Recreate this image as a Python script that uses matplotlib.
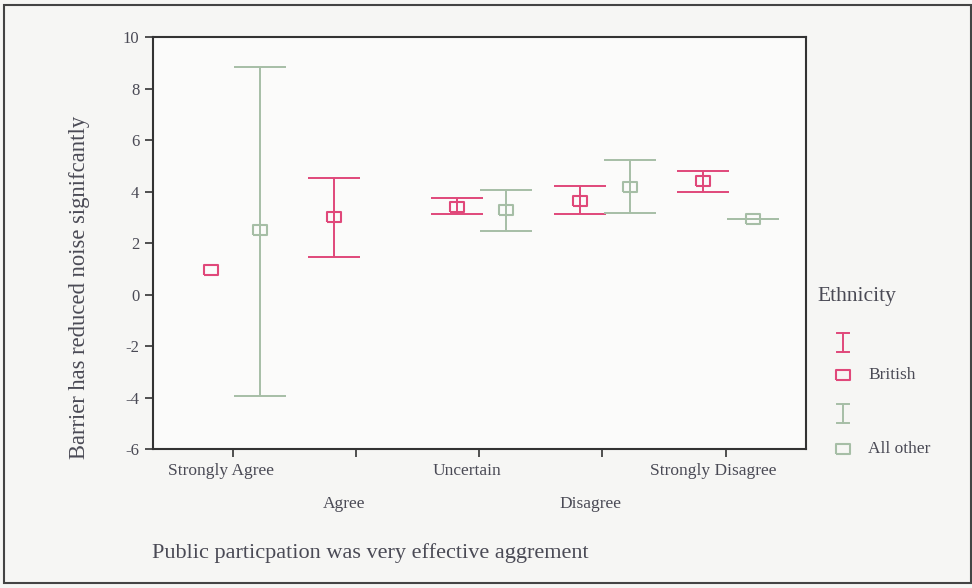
import matplotlib.pyplot as plt
import matplotlib.transforms as mtransforms
from matplotlib.patches import Rectangle
import numpy as np

# categorias del eje x
categorias = ["Strongly Agree", "Agree", "Uncertain", "Disagree", "Strongly Disagree"]

# British: media, limite superior, limite inferior (None = sin barra)
british_media = [0.97, 3.02, 3.40, 3.63, 4.40]
british_sup = [None, 4.53, 3.74, 4.22, 4.81]
british_inf = [None, 1.45, 3.12, 3.13, 4.00]

# All other (no hay dato para Agree)
otro_media = [2.50, None, 3.27, 4.18, 2.93]
otro_sup = [8.85, None, 4.06, 5.22, 2.93]
otro_inf = [-3.92, None, 2.48, 3.17, 2.93]

rojo = '#e0487a'
verde = '#a6bea6'
texto = '#4a4a55'

plt.rcParams['font.family'] = ['Liberation Serif', 'DejaVu Serif']
plt.rcParams['axes.unicode_minus'] = False

fig = plt.figure(figsize=(9.72, 5.88), dpi=100)
fig.patch.set_facecolor('#f6f6f4')
ax = fig.add_axes([0.157, 0.236, 0.672, 0.701])
ax.set_facecolor('#fbfbfa')

caja = [(-1, -0.75), (1, -0.75), (1, 0.75), (-1, 0.75), (-1, -0.75)]


def dibujar_serie(medias, sup, inf, desplaz, color):
    for i, m in enumerate(medias):
        if m is None:
            continue
        x = i + 1 + desplaz
        if sup[i] is not None:
            ax.errorbar([x], [m], yerr=[[m - inf[i]], [sup[i] - m]], fmt='none',
                        ecolor=color, elinewidth=1.4, capsize=19, capthick=1.4)
        ax.plot([x], [m], marker=caja, markersize=10, markerfacecolor='none',
                markeredgecolor=color, markeredgewidth=1.5, linestyle='none')


dibujar_serie(british_media, british_sup, british_inf, -0.18, rojo)
dibujar_serie(otro_media, otro_sup, otro_inf, 0.22, verde)

ax.set_xlim(0.35, 5.65)
ax.set_ylim(-6, 10)
ax.set_yticks(np.arange(-6, 11, 2))
ax.set_xticks(range(1, 6))
ax.set_xticklabels([c if i % 2 == 0 else '\n\n' + c for i, c in enumerate(categorias)])
ax.tick_params(axis='both', direction='out', length=6, width=1.2, colors='#333333',
               labelcolor=texto)
ax.tick_params(axis='x', pad=4, labelsize=12.5)
ax.tick_params(axis='y', labelsize=12)
# las etiquetas del eje x estan algo corridas a la izquierda
desp = mtransforms.ScaledTranslation(-12 / 100, 0, fig.dpi_scale_trans)
for lbl in ax.get_xticklabels():
    lbl.set_transform(lbl.get_transform() + desp)
    lbl.set_linespacing(1.05)
for s in ax.spines.values():
    s.set_linewidth(1.5)
    s.set_color('#333333')

fig.text(0.082, 0.512, "Barrier has reduced noise signifcantly", fontsize=16.3, color=texto,
         rotation=90, ha='center', va='center')
fig.text(0.156, 0.059, "Public particpation was very effective aggrement", fontsize=16,
         color=texto, ha='left', va='center')

# leyenda manual
fig.text(0.841, 0.496, "Ethnicity", fontsize=15.5, color=texto, ha='left', va='center')
lx = 0.867
filas = [(0.418, rojo, False), (0.362, rojo, True, "British"),
         (0.297, verde, False), (0.237, verde, True, "All other")]
for f in filas:
    y, color, es_caja = f[0], f[1], f[2]
    if es_caja:
        fig.lines.append(plt.Line2D([lx], [y], transform=fig.transFigure, marker=caja,
                                    markersize=10, markerfacecolor='none',
                                    markeredgecolor=color, markeredgewidth=1.5))
        fig.text(lx + 0.026, y, f[3], fontsize=12.5, color=texto, ha='left', va='center')
    else:
        h = 0.016
        w = 0.006
        fig.lines.append(plt.Line2D([lx, lx], [y - h, y + h], transform=fig.transFigure,
                                    color=color, lw=1.4))
        fig.lines.append(plt.Line2D([lx - w, lx + w], [y + h, y + h], transform=fig.transFigure,
                                    color=color, lw=1.4))
        fig.lines.append(plt.Line2D([lx - w, lx + w], [y - h, y - h], transform=fig.transFigure,
                                    color=color, lw=1.4))

# marco exterior del escaneo
fig.patches.append(Rectangle((0.004, 0.009), 0.995, 0.982, transform=fig.transFigure,
                             fill=False, edgecolor='#444444', lw=1.5))

fig.savefig('out.png', dpi=100, facecolor=fig.get_facecolor())
